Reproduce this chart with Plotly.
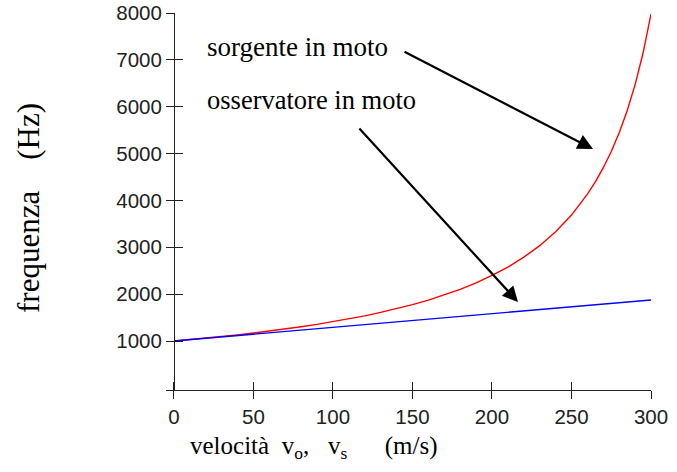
import plotly.graph_objects as go

# velocity (m/s) and frequencies (Hz)
v_source = [0, 10, 20, 30, 40, 50, 60, 70, 80, 90, 100, 110, 120, 130, 140, 150,
            160, 170, 180, 190, 200, 210, 220, 230, 240, 250, 255, 260, 265, 270,
            275, 280, 285, 290, 295, 300]
f_source = [1000, 1030, 1062, 1096, 1132, 1171, 1212, 1256, 1304, 1356, 1412, 1472,
            1538, 1610, 1690, 1777, 1874, 1983, 2104, 2242, 2399, 2579, 2789, 3035,
            3330, 3688, 3898, 4133, 4397, 4699, 5044, 5444, 5914, 6472, 7146, 7977]
v_observer = [0, 50, 100, 150, 200, 250, 300]
f_observer = [1000, 1146, 1292, 1437, 1583, 1729, 1875]

x_ticks = [0, 50, 100, 150, 200, 250, 300]
y_ticks = [1000, 2000, 3000, 4000, 5000, 6000, 7000, 8000]

W, H = 677, 472
L, R, T, B = 166, 26, 13, 82
PW, PH = W - L - R, H - T - B
x_range = [-5, 300]
y_range = [-45, 8000]


def px_x(px):
    return (px - L) / PW


def px_y(py):
    return (H - B - py) / PH


y_pos = (0 - x_range[0]) / (x_range[1] - x_range[0])

fig = go.Figure()
fig.add_trace(go.Scatter(x=v_source, y=f_source, mode="lines",
                         line=dict(color="#ff0000", width=1.4),
                         showlegend=False, hoverinfo="skip"))
fig.add_trace(go.Scatter(x=v_observer, y=f_observer, mode="lines",
                         line=dict(color="#0000ff", width=1.4),
                         showlegend=False, hoverinfo="skip"))
# invisible trace to carry the inside-tick overlay axes
fig.add_trace(go.Scatter(x=v_observer, y=f_observer, mode="lines",
                         line=dict(width=0), xaxis="x2", yaxis="y2",
                         showlegend=False, hoverinfo="skip", opacity=0))

tick_font = dict(family="Liberation Sans, Arial, sans-serif", size=20.5, color="#222")
axis_common = dict(showgrid=False, zeroline=False, showline=True,
                   linecolor="#222", linewidth=1, tickcolor="#222",
                   ticklen=8, tickwidth=1, automargin=False)

fig.update_layout(
    template="none",
    width=W, height=H,
    margin=dict(l=L, r=R, t=T, b=B, autoexpand=False),
    paper_bgcolor="white", plot_bgcolor="white",
    xaxis=dict(range=x_range, tickvals=x_ticks, ticks="outside",
               tickfont=tick_font, **axis_common),
    yaxis=dict(range=y_range, tickvals=y_ticks, ticks="outside",
               tickfont=tick_font, anchor="free", position=y_pos, **axis_common),
    xaxis2=dict(range=x_range, tickvals=x_ticks, ticks="inside", overlaying="x",
                showticklabels=False, **axis_common),
    yaxis2=dict(range=y_range, tickvals=y_ticks, ticks="inside", overlaying="y",
                showticklabels=False, anchor="free", position=y_pos, **axis_common),
)

serif = "Liberation Serif, Times New Roman, serif"
fig.add_annotation(text="sorgente in moto", xref="paper", yref="paper",
                   x=px_x(205), y=px_y(47), xanchor="left", yanchor="middle",
                   showarrow=False, font=dict(family=serif, size=27, color="black"))
fig.add_annotation(text="osservatore in moto", xref="paper", yref="paper",
                   x=px_x(205), y=px_y(100), xanchor="left", yanchor="middle",
                   showarrow=False, font=dict(family=serif, size=26.5, color="black"))
fig.add_annotation(text="velocità&nbsp;&nbsp;v<sub>o</sub>,&nbsp;&nbsp;&nbsp;v<sub>s</sub>&nbsp;&nbsp;&nbsp;&nbsp;&nbsp;&nbsp;(m/s)",
                   xref="paper", yref="paper",
                   x=px_x(188), y=px_y(447), xanchor="left", yanchor="middle",
                   showarrow=False, font=dict(family=serif, size=25, color="black"))
fig.add_annotation(text="frequenza&nbsp;&nbsp;&nbsp;&nbsp;(Hz)",
                   xref="paper", yref="paper", textangle=-90,
                   x=px_x(29), y=px_y(208), xanchor="center", yanchor="middle",
                   showarrow=False, font=dict(family=serif, size=31, color="black"))

# arrows
fig.add_annotation(text="", xref="paper", yref="paper",
                   x=px_x(593), y=px_y(149), ax=-190, ay=-98,
                   showarrow=True, arrowhead=2, arrowsize=1.4, arrowwidth=2.2,
                   arrowcolor="black")
fig.add_annotation(text="", xref="paper", yref="paper",
                   x=px_x(518), y=px_y(302), ax=-160, ay=-175,
                   showarrow=True, arrowhead=2, arrowsize=1.4, arrowwidth=2.2,
                   arrowcolor="black")

fig.write_html("out.html", config={"displayModeBar": False},
               post_script="document.body.style.margin='0px';")
